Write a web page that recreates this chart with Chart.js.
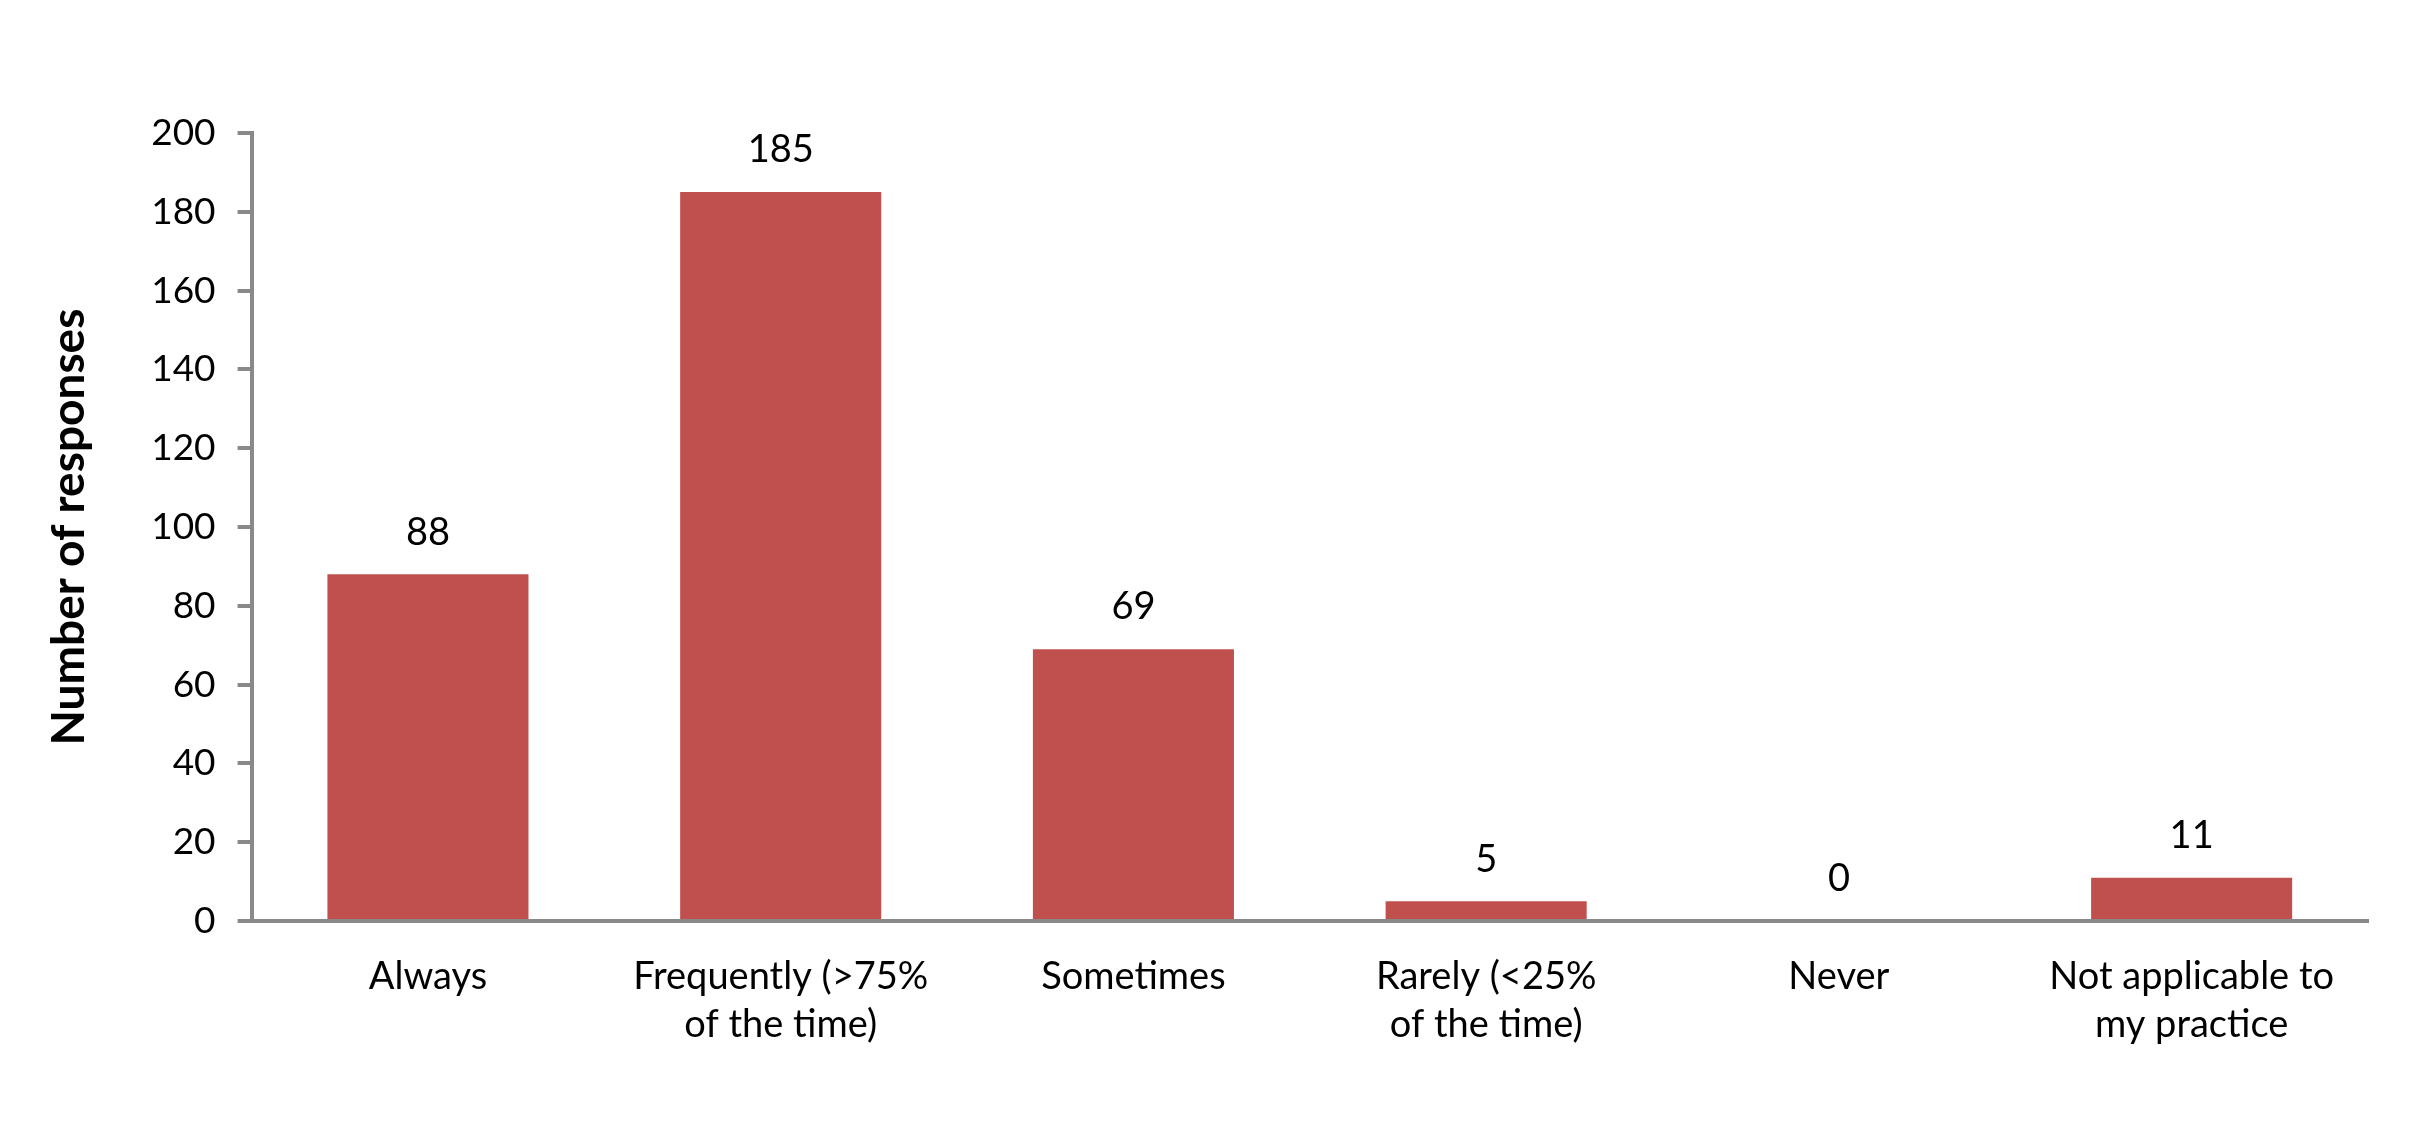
<!DOCTYPE html>
<html>
<head>
<meta charset="utf-8">
<script src="https://cdn.jsdelivr.net/npm/chart.js@4"></script>
<style>
  html, body { margin: 0; padding: 0; background: #fff; }
  #wrap { width: 2416px; height: 1125px; }
</style>
</head>
<body>
<div id="wrap"><canvas id="responsesChart" width="2416" height="1125"></canvas></div>
<script>
const categories = [
    'Always',
    ['Frequently (>75%', 'of the time)'],
    'Sometimes',
    ['Rarely (<25%', 'of the time)'],
    'Never',
    ['Not applicable to', 'my practice']
];
const responses = [88, 185, 69, 5, 0, 11];
const yTicks = [0, 20, 40, 60, 80, 100, 120, 140, 160, 180, 200];

const axisGray = '#898989';
const barRed = '#C0504D';

// draws the value above each bar
const valueLabels = {
    id: 'valueLabels',
    afterDatasetsDraw(chart) {
        const ctx = chart.ctx;
        const meta = chart.getDatasetMeta(0);
        ctx.save();
        ctx.font = '38px Lato';
        ctx.fillStyle = '#000';
        ctx.textAlign = 'center';
        ctx.textBaseline = 'middle';
        meta.data.forEach((bar, i) => {
            ctx.fillText(String(responses[i]), bar.x, bar.y - 42);
        });
        ctx.restore();
    }
};

const ctx = document.getElementById('responsesChart').getContext('2d');
new Chart(ctx, {
    type: 'bar',
    data: {
        labels: categories,
        datasets: [{
            data: responses,
            backgroundColor: barRed,
            categoryPercentage: 0.57,
            barPercentage: 1.0
        }]
    },
    options: {
        responsive: false,
        animation: false,
        layout: { padding: { top: 133, right: 48, bottom: 45, left: 38 } },
        plugins: { legend: { display: false }, tooltip: { enabled: false } },
        scales: {
            x: {
                grid: { display: false, drawTicks: false },
                border: { color: axisGray, width: 4 },
                ticks: { color: '#000', font: { family: 'Lato', size: 38, lineHeight: 1.25 }, padding: 32, maxRotation: 0, autoSkip: false }
            },
            y: {
                min: 0,
                max: 200,
                afterBuildTicks(axis) { axis.ticks = yTicks.map(v => ({ value: v })); },
                grid: { drawOnChartArea: false, drawTicks: true, tickLength: 14, color: axisGray, lineWidth: 4 },
                border: { color: axisGray, width: 4 },
                ticks: { color: '#000', font: { family: 'Lato', size: 37 }, padding: 22 },
                title: {
                    display: true,
                    text: 'Number of responses',
                    color: '#000',
                    font: { family: 'Lato', size: 46, weight: 'bold' },
                    padding: { bottom: 32 }
                }
            }
        }
    },
    plugins: [valueLabels]
});
</script>
</body>
</html>
